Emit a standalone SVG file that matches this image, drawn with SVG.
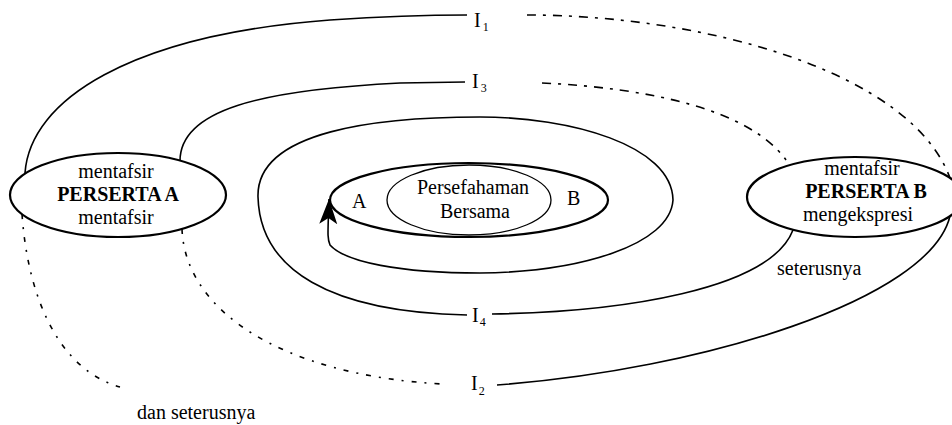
<svg xmlns="http://www.w3.org/2000/svg" width="952" height="425" viewBox="0 0 952 425">
<style>
text{font-family:'Liberation Serif',serif;fill:#000;font-size:20px}
.c{text-anchor:middle}
.b{font-weight:bold}
.sub{font-size:12px}
.node{fill:#fff;stroke:#000;stroke-width:2.2}
.ln{fill:none;stroke:#000;stroke-width:1.6}
.dsh{fill:none;stroke:#000;stroke-width:1.6;stroke-dasharray:9 7 3 7}
.dot{fill:none;stroke:#000;stroke-width:1.6;stroke-dasharray:5 8 2 8}
</style>
<defs>
<marker id="arr" markerUnits="userSpaceOnUse" markerWidth="26" markerHeight="20" viewBox="0 0 26 20" refX="25" refY="10" orient="auto">
<path d="M0,1 L25,10 L0,19 L6,10 Z" fill="#000"/>
</marker>
</defs>
<rect width="952" height="425" fill="#fff"/>
<g id="connectors">
<path class="ln" d="M25 173 C30 100 130 35 330 20 C390 16 440 15 467 15"/>
<path class="dsh" d="M527 15 C700 15 910 70 950 178"/>
<path class="dot" d="M22 214 C28 300 60 370 120 387"/>
<path class="ln" d="M180 161 C180 110 260 90 400 83 L465 82"/>
<path class="dsh" d="M542 83 C650 88 750 110 786 160"/>
<path class="dot" d="M182 229 C185 310 280 375 442 384"/>
<path class="ln" d="M497 385 C700 370 930 300 950 216"/>
<path class="ln" d="M793 230 C770 290 620 312 492 314"/>
<path class="ln" d="M467 315 C330 312 260 270 258 197 C256 130 380 117 480 117 C570 117 672 145 673 200 C670 245 580 272 480 273 C400 273 345 262 330 245 C327 238 328 232 329 199" marker-end="url(#arr)"/>
</g>
<g id="node-center">
<ellipse cx="469" cy="200" rx="139" ry="37" fill="none" stroke="#000" stroke-width="2.2"/>
<ellipse cx="469" cy="200" rx="82" ry="35" fill="none" stroke="#000" stroke-width="1.3"/>
<text class="c" x="473" y="194">Persefahaman</text>
<text class="c" x="475" y="218">Bersama</text>
<text x="352" y="208">A</text>
<text x="567" y="205">B</text>
</g>
<g id="node-a">
<ellipse class="node" cx="118" cy="195" rx="108" ry="42"/>
<text class="c" x="116" y="178">mentafsir</text>
<text class="c b" x="118" y="201">PERSERTA A</text>
<text class="c" x="116" y="224">mentafsir</text>
</g>
<g id="node-b">
<ellipse class="node" cx="855" cy="197" rx="108" ry="40"/>
<text class="c" x="862" y="175">mentafsir</text>
<text class="c b" x="866" y="198">PERSERTA B</text>
<text class="c" x="858" y="221">mengekspresi</text>
</g>
<g id="labels">
<text x="474" y="27">I<tspan class="sub" dx="2" dy="4">1</tspan></text>
<text x="472" y="88">I<tspan class="sub" dx="2" dy="4">3</tspan></text>
<text x="472" y="322">I<tspan class="sub" dx="1" dy="4">4</tspan></text>
<text x="471" y="390">I<tspan class="sub" dx="1" dy="5">2</tspan></text>
<text x="777" y="275">seterusnya</text>
<text x="137" y="419">dan seterusnya</text>
</g>
</svg>
